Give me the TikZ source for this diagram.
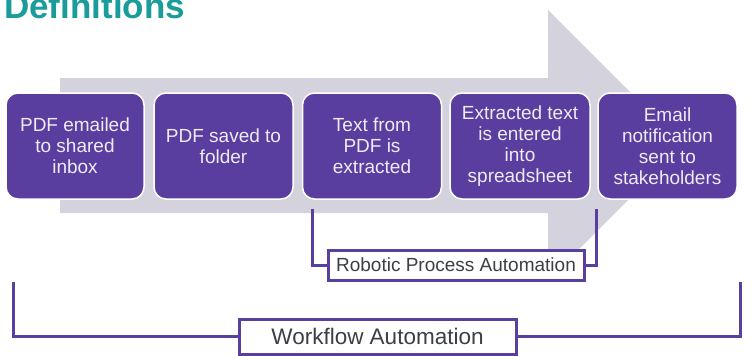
\documentclass[tikz,border=0pt]{standalone}
\usepackage{fontspec}
\setmainfont{Liberation Sans}
\definecolor{boxpurple}{HTML}{5A3E9F}
\definecolor{brpurple}{HTML}{5940A0}
\definecolor{arrowgray}{HTML}{D4D2DD}
\definecolor{titleteal}{HTML}{199C9A}
\definecolor{boxtext}{HTML}{EEEBF5}
\definecolor{labeltext}{HTML}{3C3F44}
\begin{document}
\begin{tikzpicture}[x=1pt,y=-1pt,
  stepbox/.style={rectangle, rounded corners=12pt, draw=white, line width=1.5pt,
    fill=boxpurple, minimum width=138pt, minimum height=106pt, inner sep=2pt,
    align=center, text=boxtext, font=\fontsize{19}{21}\selectfont},
  labelbox/.style={rectangle, draw=brpurple, line width=3pt, fill=white,
    text=labeltext, inner sep=0pt},
  bracket/.style={draw=brpurple, line width=3pt}]
\useasboundingbox (0,0) rectangle (753,356);
% big arrow
\fill[arrowgray] (60,78) -- (548,78) -- (548,10) -- (683,145) -- (548,280)
  -- (548,213) -- (60,213) -- cycle;
% title
\node[anchor=base west, inner sep=0pt, text=titleteal,
  font=\fontsize{35}{40}\selectfont\bfseries] (title) at (4,18) {Definitions};
% step boxes
\node[stepbox] (b1) at (75,146) {PDF emailed\\to shared\\inbox};
\node[stepbox, minimum width=139pt] (b2) at (223.5,146) {PDF saved to\\folder};
\node[stepbox, minimum width=139pt] (b3) at (372,146) {Text from\\PDF is\\extracted};
\node[stepbox, minimum width=140pt] (b4) at (520,146) {Extracted text\\is entered\\into\\spreadsheet};
\node[stepbox, minimum width=139pt] (b5) at (667.5,146) {Email\\notification\\sent to\\stakeholders};
% labels
\node[labelbox, minimum width=256pt, minimum height=30pt,
  font=\fontsize{19}{21}\selectfont] (rpa) at (456,265) {Robotic Process Automation};
\node[labelbox, minimum width=277pt, minimum height=35pt,
  font=\fontsize{22.5}{25}\selectfont] (wfa) at (377.5,336.5) {Workflow Automation};
% brackets
\coordinate (r1) at (312,209);
\coordinate (r2) at (596,209);
\coordinate (w1) at (13,282);
\coordinate (w2) at (740,282);
\draw[bracket] (r1) |- (rpa.west);
\draw[bracket] (r2) |- (rpa.east);
\draw[bracket] (w1) |- (wfa.west);
\draw[bracket] (w2) |- (wfa.east);
\end{tikzpicture}
\end{document}
